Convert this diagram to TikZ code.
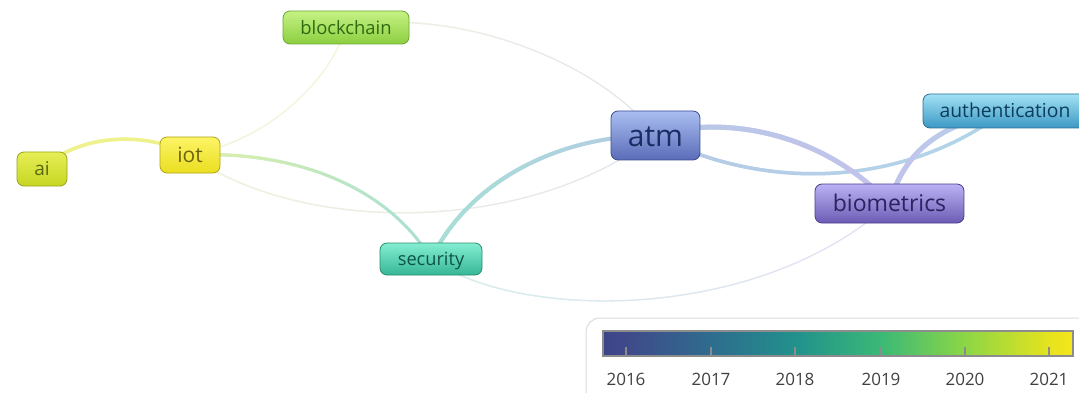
\documentclass[tikz,border=0pt]{standalone}
\usepackage{fontspec}
\setmainfont{Open Sans}
\usetikzlibrary{backgrounds,fadings}

% keyword colours (top / bottom / border / text)
\definecolor{blkT}{HTML}{C6F284}\definecolor{blkB}{HTML}{8CCE40}\definecolor{blkD}{HTML}{68A830}\definecolor{blkX}{HTML}{2E6A10}
\definecolor{aiT}{HTML}{E6EE56}\definecolor{aiB}{HTML}{C6D622}\definecolor{aiD}{HTML}{98A418}\definecolor{aiX}{HTML}{5C6810}
\definecolor{iotT}{HTML}{FCF466}\definecolor{iotB}{HTML}{EADE20}\definecolor{iotD}{HTML}{B0A418}\definecolor{iotX}{HTML}{6C6410}
\definecolor{secT}{HTML}{84EED2}\definecolor{secB}{HTML}{36B696}\definecolor{secD}{HTML}{2A8C70}\definecolor{secX}{HTML}{0C5444}
\definecolor{atmT}{HTML}{AABEF2}\definecolor{atmB}{HTML}{5A6CB8}\definecolor{atmD}{HTML}{3C4C8C}\definecolor{atmX}{HTML}{1C2C64}
\definecolor{bioT}{HTML}{BAB2F4}\definecolor{bioB}{HTML}{6C5CB4}\definecolor{bioD}{HTML}{4A3C8C}\definecolor{bioX}{HTML}{2C2260}
\definecolor{autT}{HTML}{A2E2F4}\definecolor{autB}{HTML}{3C98C4}\definecolor{autD}{HTML}{2A7090}\definecolor{autX}{HTML}{0C3C5C}

% link colours
\definecolor{lYel}{HTML}{EEF28C}
\definecolor{lYelF}{HTML}{F2F5DA}
\definecolor{lGrn}{HTML}{E2F2A2}
\definecolor{lTeal}{HTML}{A6E0D6}
\definecolor{lTealF}{HTML}{D6F0EC}
\definecolor{lBlu}{HTML}{B6CAE6}
\definecolor{lBluF}{HTML}{E2E6EE}
\definecolor{lPur}{HTML}{C4C2EC}
\definecolor{lPurF}{HTML}{E4E0F2}
\definecolor{lSky}{HTML}{B2D6EA}

% colour scale
\definecolor{vA}{HTML}{3D4489}
\definecolor{v16}{HTML}{3F4A8A}
\definecolor{v17}{HTML}{2F6C8E}
\definecolor{v18}{HTML}{21918C}
\definecolor{v19}{HTML}{3BB977}
\definecolor{v20}{HTML}{8CD646}
\definecolor{v21}{HTML}{E6E31E}
\definecolor{vB}{HTML}{F5E61C}
\pgfdeclarehorizontalshading{viridisbar}{100bp}{color(0bp)=(vA); color(25bp)=(vA); color(27.45bp)=(v16); color(36.45bp)=(v17); color(45.45bp)=(v18); color(54.55bp)=(v19); color(63.5bp)=(v20); color(72.45bp)=(v21); color(75bp)=(vB); color(100bp)=(vB)}

\tikzfading[name=fadeR, left color=transparent!0, right color=transparent!100]

% a link drawn in two colours that blend along its length
\newcommand\lnk[5]{%
  \draw[#1,draw=#3] #5;
  \draw[#1,draw=#2,path fading=#4] #5;}

\newcommand\fsz[1]{\fontsize{#1}{#1}\selectfont}

\tikzset{
  kw/.style={rounded corners=7pt, line width=0.8pt, inner sep=0pt, text depth=0pt},
  % font size and matching ascender height
  ksz/.style 2 args={font=\fsz{#1}, text height=#2pt},
  link/.style={line width=#1, line cap=round},
  yr/.style={font=\fsz{17}, text=black!75},
  tick/.style={draw=black!45, line width=1.2pt}
}

\begin{document}
\begin{tikzpicture}[x=1pt,y=-1pt]
\useasboundingbox (0,0) rectangle (1079,393);

% keywords
\node[kw, ksz={18.4}{13.2}, top color=blkT, bottom color=blkB, draw=blkD, text=blkX,
      minimum width=126pt, minimum height=33pt] (blockchain) at (346,27.5) {blockchain};
\node[kw, ksz={19}{13.7}, top color=aiT, bottom color=aiB, draw=aiD, text=aiX,
      minimum width=50pt, minimum height=34pt] (ai) at (42,169) {ai};
\node[kw, ksz={21}{15.1}, top color=iotT, bottom color=iotB, draw=iotD, text=iotX,
      minimum width=60pt, minimum height=36pt] (iot) at (190,155) {iot};
\node[kw, ksz={18.2}{13.1}, top color=secT, bottom color=secB, draw=secD, text=secX,
      minimum width=102pt, minimum height=32pt] (security) at (431,259) {security};
\node[kw, ksz={30}{21.6}, top color=atmT, bottom color=atmB, draw=atmD, text=atmX,
      minimum width=89pt, minimum height=49pt] (atm) at (655.5,135.5) {atm};
\node[kw, ksz={23}{16.6}, top color=bioT, bottom color=bioB, draw=bioD, text=bioX,
      minimum width=149pt, minimum height=39pt] (biometrics) at (889.5,203.5) {biometrics};
\node[kw, ksz={19.3}{13.9}, top color=autT, bottom color=autB, draw=autD, text=autX,
      minimum width=164pt, minimum height=34pt] (authentication) at (1005,111) {authentication};

% links between keywords
\begin{pgfonlayer}{background}
\lnk{link=1.3pt}{lYelF}{lYelF}{fadeR}{(iot.center) .. controls (270,140) and (330,80) .. (blockchain.center)}
\lnk{link=1.3pt}{lYelF}{lBluF}{fadeR}{(iot.center) .. controls (300,235) and (530,235) .. (atm.center)}
\lnk{link=1.3pt}{lYelF}{lBluF}{fadeR}{(blockchain.center) .. controls (450,5) and (600,60) .. (atm.center)}
\lnk{link=1.3pt}{lTealF}{lPurF}{fadeR}{(security.center) .. controls (520,322) and (760,322) .. (biometrics.center)}
\lnk{link=3.5pt}{lYel}{lYel}{fadeR}{(ai.center) .. controls (80,132) and (150,132) .. (iot.center)}
\lnk{link=3pt}{lGrn}{lTeal}{fadeR}{(iot.center) .. controls (300,150) and (390,190) .. (security.center)}
\lnk{link=4pt}{lTeal}{lBlu}{fadeR}{(security.center) .. controls (470,180) and (560,135) .. (atm.center)}
\lnk{link=3.5pt}{lBlu}{lSky}{fadeR}{(atm.center) .. controls (760,190) and (900,190) .. (authentication.center)}
\lnk{link=5pt}{lBlu}{lPur}{fadeR}{(atm.center) .. controls (720,115) and (820,130) .. (biometrics.center)}
\lnk{link=5pt}{lPur}{lSky}{fadeR}{(biometrics.center) .. controls (905,150) and (940,125) .. (authentication.center)}
\end{pgfonlayer}

% colour scale
\draw[draw=black!14, line width=1pt, rounded corners=14pt] (586,318) rectangle (1110,420);
\shade[shading=viridisbar] (603,331) rectangle (1073,356);
\draw[draw=black!45, line width=1.2pt] (603,331) rectangle (1073,356);
\foreach \yy/\xx in {2016/626,2017/711,2018/795,2019/881,2020/965,2021/1049}{
  \coordinate (t\yy) at (\xx,356);
  \draw[tick] (t\yy) -- ++(0,-9);
  \node[yr] (l\yy) at (\xx,379) {\yy};
}
\end{tikzpicture}
\end{document}
